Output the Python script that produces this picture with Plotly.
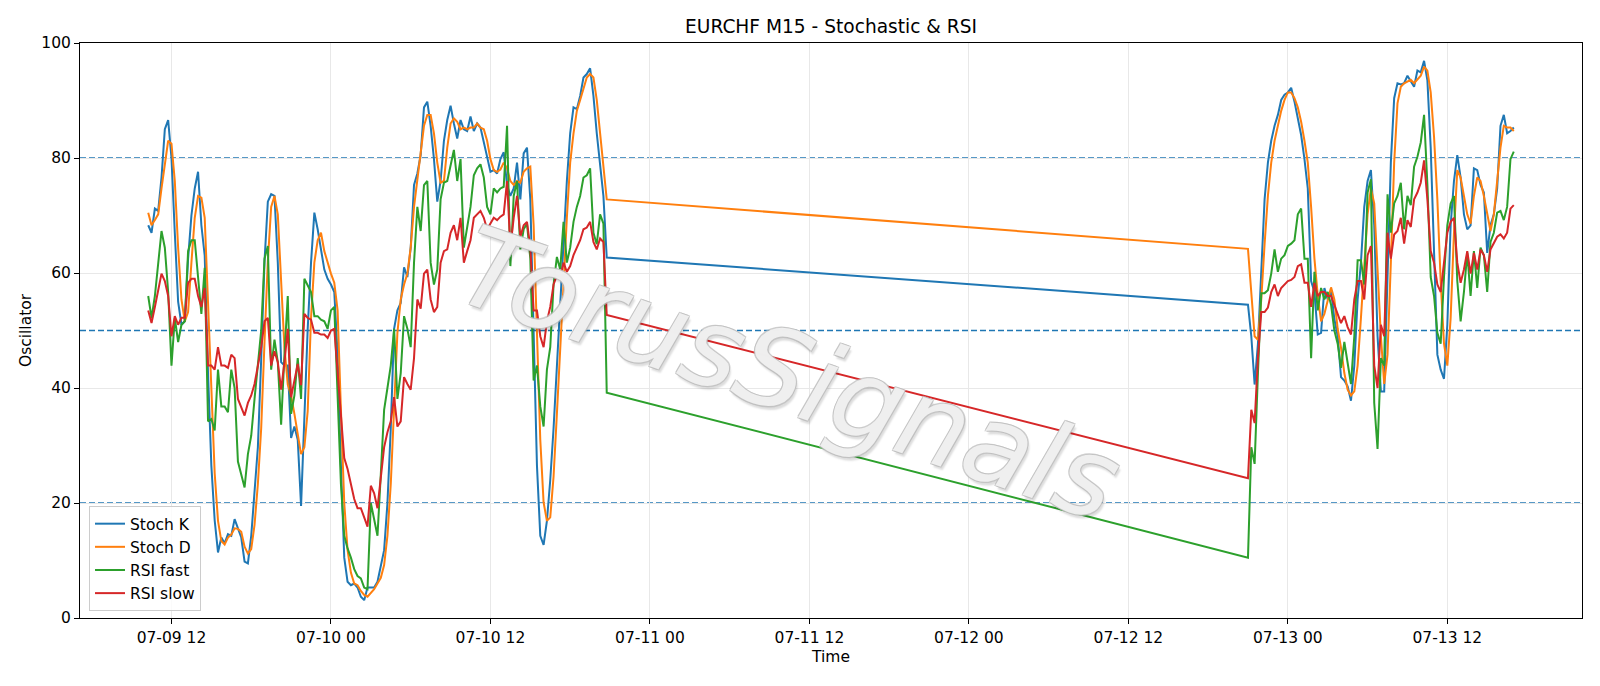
import pandas as pd
import plotly.graph_objects as go

# ---- data ----
seg1_start = "2025-07-09 10:15"
seg2_start = "2025-07-12 21:00"

stoch_k_1 = [68.3, 67, 71.2, 70.8, 76.6, 85, 86.6, 80, 67, 55, 51, 51.6, 62.5, 70, 74.7, 77.6, 68.3, 63, 42.6, 26.5,
             17, 11.4, 14, 13, 14.6, 14.3, 17.2, 15.6, 14, 9.8, 9.5, 14.3, 21.4, 29.7, 45, 62, 72.4, 73.7, 73.4, 61.8,
             44.5, 43.9, 43.9, 31.3, 33.3, 31, 19.5, 36, 50.3, 61.8, 70.5, 67.6, 64.4, 60.6, 59, 58, 56.7, 45.8, 26.5, 10.5,
             6.3, 5.7, 6, 5.3, 3.7, 3.1, 5.3, 5.3, 5.3, 6.3, 9, 11.8, 20, 33, 50.3, 53.5, 54.8, 61, 59.3, 64.4,
             75.3, 77.3, 80.5, 88.8, 89.8, 85.6, 79.8, 72.4, 76, 83, 86.6, 89.1, 86, 83.4, 86.6, 85, 84.7, 87.2, 84.7, 86,
             85.3, 83, 80.2, 77.6, 77.9, 77.3, 79.8, 81, 75.3, 73.4, 74.7, 79.2, 72.8, 80.8, 81.8, 72.8, 49, 26.5, 14.3, 12.7,
             16.9, 24, 33, 43.9, 55.4, 65.7, 76, 84.3, 88.8, 88.5, 90.8, 94, 94.6, 95.6, 90.8, 84.3, 78.5, 73.4, 62.7]
stoch_d_1 = [70.5, 68.3, 69.2, 70.2, 74.7, 79.2, 83, 82.5, 76, 64.4, 55.4, 51.6, 53.2, 61.8, 69.6, 73.4, 73.1, 69.6, 55.4, 39.4,
             25.2, 16.9, 13.4, 12.8, 14, 14.5, 15.6, 15.5, 15, 12.4, 11.2, 12, 16.2, 23.3, 33, 48, 62, 71.5, 73.4, 70.2,
             58.6, 47, 40.6, 38.7, 35.5, 32.3, 28.5, 29.7, 36, 52.2, 61.8, 65.7, 67, 63.8, 61.8, 59.9, 58.3, 53.5, 36.2, 20,
             11.8, 7.9, 6, 5.7, 4.7, 4, 3.7, 4.4, 5, 6, 7, 9.2, 14.3, 23.3, 36.2, 49.6, 55.4, 58, 59.9, 64.4,
             71.5, 76, 80.5, 85.6, 87.5, 87.5, 84.3, 79.2, 75.7, 76, 81.8, 86, 86.9, 86.3, 85, 85.3, 85, 85.3, 85.3, 86,
             85.3, 85, 83, 79.8, 77.9, 77.6, 78, 79.2, 78.2, 76, 75.3, 76, 75.7, 77.6, 78.2, 78.5, 68.3, 49, 31, 20.1,
             16.9, 17.5, 24.6, 35.5, 45.8, 58, 69.6, 79.2, 84.3, 88.2, 90.1, 92, 94, 94.6, 94, 90.1, 84.3, 78.5, 72.8]
rsi_fast_1 = [56, 52.2, 56, 61.8, 67.3, 64.4, 56.7, 43.9, 52.2, 48, 51, 51.6, 63.8, 65.7, 65.7, 59.3, 52.9, 60.9, 34.2, 34.6,
              32.6, 43.2, 36.8, 36.8, 35.8, 43.2, 40, 27.2, 24.9, 22.7, 28.5, 31.7, 38.1, 44.5, 50, 62.5, 64.7, 43.2, 48.4, 44.5,
              33.6, 45.8, 56, 35.5, 38.7, 45.2, 38.1, 59, 57.7, 56.7, 52.5, 52.5, 51.9, 51.6, 50.3, 53.5, 54.1, 39.4, 23.3, 14.3,
              12.1, 10.5, 8.5, 7.3, 6.9, 5.3, 5, 20, 17, 14.3, 25, 36.2, 40, 43.9, 50.3, 38.1, 42.6, 52.5, 50.3, 47.1,
              61.8, 71.5, 67.3, 75.3, 76, 61.8, 58, 60.6, 72.8, 75.7, 76, 78.5, 81.4, 76, 79.8, 64.4, 67.6, 71.5, 77, 78.2,
              78.9, 76.6, 71.5, 70.2, 74.7, 74, 74.7, 75, 85.6, 61.2, 73.4, 76, 64.1, 67.6, 68.6, 62.5, 41.3, 43.9, 36.8, 33.3,
              43.2, 47.1, 58, 62.8, 60.6, 68.9, 61.8, 64.4, 68.9, 71.5, 73.4, 76.6, 77, 78.2, 67, 65, 70.2, 68.6, 39.2]
rsi_slow_1 = [53.5, 51.3, 54.1, 56.7, 59.9, 58.6, 56, 49, 52.5, 51, 52.2, 52.2, 58.3, 59, 59, 56, 54.1, 57.4, 43.9, 43.9,
              43.2, 47.1, 43.9, 43.9, 43.5, 45.8, 45.2, 38.1, 36.8, 35.2, 37.4, 38.7, 40.7, 43.9, 47, 51.6, 52.2, 43.9, 46.4, 44.5,
              39.7, 44.5, 50.3, 38.4, 41.3, 44.2, 40.5, 52.9, 52.2, 51.9, 49.6, 49.6, 49.3, 49.3, 48.7, 50, 50.3, 42.6, 34.2, 27.8,
              25.9, 23.3, 20.7, 19.1, 19.1, 17.5, 15.9, 23, 21.7, 19.1, 25, 29.7, 32.3, 34.2, 38.4, 33.3, 34.2, 41.9, 40.7, 39.7,
              45.2, 55.4, 53.8, 59.9, 60.6, 55.4, 53.2, 54.1, 61.8, 63.8, 64.1, 67, 68.3, 65.7, 69.6, 61.8, 63.8, 65.7, 69.6, 70.2,
              70.8, 69.6, 67.6, 68.6, 69.6, 69.2, 69.8, 70.2, 76, 64.4, 69.6, 73.4, 66.3, 68.3, 68.9, 64.4, 53.5, 53.5, 49, 47.1,
              51.6, 54.1, 58, 59.6, 59.3, 61.8, 60.2, 61.2, 63.1, 64.4, 65.7, 67.6, 67.9, 68.9, 65.4, 64.1, 66, 65.4, 52.7]

stoch_k_2 = [54.5, 49, 40.6, 47.7, 61.8, 72.8, 79.2, 83, 85.6, 87.5, 90.1, 91, 91.4, 92.2, 89.8, 86.9, 84, 79.8, 74.7, 58.6,
             56.7, 49.3, 49.6, 57.4, 55.4, 57, 52, 49, 41.9, 41.3, 40.3, 37.8, 43.9, 55.4, 61.8, 71.5, 76, 77.9, 68.3, 49,
             39.4, 39.4, 60.6, 79.2, 90.4, 93, 92.8, 93, 94.3, 93.3, 92.4, 95.2, 94.9, 96.9, 93.5, 81.8, 64.4, 45.8, 43.2, 41.6,
             51, 68.3, 76, 80.5, 76.6, 70.2, 67.6, 68.3, 78.2, 77.9, 75.3, 74, 63.5, 68.3, 70.2, 74.7, 85.6, 87.5, 84.3, 84.7, 85.3]
stoch_d_2 = [64.2, 56.7, 49, 48.4, 55.4, 65, 73.4, 79.2, 83, 85.6, 88.2, 90.1, 91.4, 91.4, 90.4, 88.8, 86.3, 83, 79.2, 71.5,
             62.5, 56.1, 51.6, 52.9, 55.4, 57.5, 55.4, 50.3, 47, 42.6, 39.7, 38.7, 39.4, 43.9, 52.2, 61.8, 70.2, 74.7, 72.1, 60.6,
             49, 40.7, 45.8, 61.8, 79.2, 89.5, 92.4, 93, 93.3, 93.6, 93, 93.6, 94.3, 95.9, 95.2, 91.4, 83.7, 72.8, 58.6, 47.7,
             43.9, 52.2, 67, 77.9, 76.6, 73.4, 70.2, 68.6, 73.4, 76.6, 76, 73.4, 70.2, 67.3, 70.2, 76, 81.8, 85.6, 85.3, 85.3, 84.7]
rsi_fast_2 = [10.5, 29.7, 26.8, 42.6, 56.5, 56.5, 57, 59.9, 64.1, 60.2, 62.5, 63.1, 64.7, 65.1, 65.7, 70.2, 71.2, 62.5, 62.5, 45.2,
              60.2, 53.5, 57.4, 55.4, 56.7, 54.5, 50, 47.7, 43.5, 48, 43.9, 40.7, 49, 62.2, 62.2, 58, 74, 76.3, 37.4, 29.4,
              45.2, 43.9, 73.7, 67, 72.1, 73.4, 75.7, 67.6, 73.4, 71.8, 78.5, 80.2, 82.7, 87.5, 75.4, 59.3, 56, 49.6, 47.7, 59.3,
              68.3, 72.1, 73.4, 58.6, 51.6, 56.7, 63.5, 56, 63.8, 57.4, 64.4, 63.1, 56.7, 65.4, 67, 70.5, 70.8, 69.2, 71.5, 79.8, 81.1]
rsi_slow_2 = [24.3, 36.2, 33.9, 45.2, 53.2, 53.2, 54, 56.7, 58, 56, 57.4, 58, 58.6, 58.8, 59.3, 61.2, 61.5, 58.3, 58.3, 54.1,
              58.3, 56, 56.7, 56.7, 56, 56, 54.5, 52.9, 51.3, 52.5, 50.6, 49.3, 55.4, 58.6, 58.6, 55.4, 63.1, 64.7, 43.9, 40,
              51, 49, 67, 62.5, 66.7, 67.3, 69.6, 65.1, 69.2, 68, 72.8, 74, 75.7, 79.6, 72.8, 63.8, 61.8, 58, 56.7, 61.8,
              67, 68.9, 69.6, 61.8, 58.3, 60.6, 63.8, 59.9, 63.5, 60.6, 64.1, 63.1, 60.2, 64.1, 65.1, 66.3, 66.7, 66, 67, 71.2, 71.8]

levels = [80, 50, 20]
tick_times = ["2025-07-09 12:00", "2025-07-10 00:00", "2025-07-10 12:00", "2025-07-11 00:00", "2025-07-11 12:00",
              "2025-07-12 00:00", "2025-07-12 12:00", "2025-07-13 00:00", "2025-07-13 12:00"]
tick_labels = ["07-09 12", "07-10 00", "07-10 12", "07-11 00", "07-11 12", "07-12 00", "07-12 12", "07-13 00", "07-13 12"]

# ---- build ----
t1 = pd.date_range(seg1_start, periods=len(stoch_k_1), freq="15min")
t2 = pd.date_range(seg2_start, periods=len(stoch_k_2), freq="15min")
times = list(t1) + list(t2)

series = [
    ("Stoch K", stoch_k_1 + stoch_k_2, "#1f77b4"),
    ("Stoch D", stoch_d_1 + stoch_d_2, "#ff7f0e"),
    ("RSI fast", rsi_fast_1 + rsi_fast_2, "#2ca02c"),
    ("RSI slow", rsi_slow_1 + rsi_slow_2, "#d62728"),
]

FONT = "DejaVu Sans"
FS = 15.5
fig = go.Figure()
for name, vals, col in series:
    fig.add_trace(go.Scatter(x=times, y=vals, mode="lines", name=name,
                             line=dict(color=col, width=2)))

for lv in levels:
    fig.add_shape(type="line", xref="paper", x0=0, x1=1, yref="y", y0=lv, y1=lv,
                  line=dict(color="#1f77b4", width=1.3, dash="6px,3px"), layer="below")

fig.add_annotation(text="TorusSignals", xref="paper", yref="paper", x=0.472, y=0.425,
                   showarrow=False, textangle=19,
                   font=dict(family=FONT, size=110, color="rgba(255,255,255,0.75)", style="italic",
                             shadow="1px 1px 0 #bdbdbd, -1px -1px 0 #bdbdbd, 1px -1px 0 #bdbdbd, -1px 1px 0 #bdbdbd, 3px 3px 2px rgba(0,0,0,0.18)"))

fig.update_layout(
    width=1600, height=686,
    margin=dict(l=80, r=18, t=43, b=68),
    paper_bgcolor="white", plot_bgcolor="white",
    font=dict(family=FONT, size=FS, color="black"),
    title=dict(text="EURCHF M15 - Stochastic & RSI", x=0.5, xref="paper", xanchor="center",
               y=1 - 26.5 / 686, yref="container", yanchor="middle",
               font=dict(family=FONT, size=18.6, color="black")),
    showlegend=True,
    legend=dict(x=0.006, y=0.012, xanchor="left", yanchor="bottom",
                bgcolor="rgba(255,255,255,0.8)", bordercolor="#cccccc", borderwidth=1,
                font=dict(family=FONT, size=FS), tracegroupgap=0, itemwidth=30),
)
fig.update_xaxes(
    type="date", range=["2025-07-09 05:07", "2025-07-13 22:08"],
    tickvals=tick_times, ticktext=tick_labels,
    showgrid=True, gridcolor="#e8e8e8", gridwidth=1,
    showline=True, linecolor="black", linewidth=1, mirror=True,
    ticks="outside", ticklen=5, tickcolor="black", tickfont=dict(size=FS),
    title=dict(text="Time", font=dict(size=FS), standoff=5), zeroline=False,
)
fig.update_yaxes(
    range=[0, 100], tickvals=[0, 20, 40, 60, 80, 100],
    showgrid=True, gridcolor="#e8e8e8", gridwidth=1,
    showline=True, linecolor="black", linewidth=1, mirror=True,
    ticks="outside", ticklen=5, tickcolor="black", tickfont=dict(size=FS),
    title=dict(text="Oscillator", font=dict(size=FS), standoff=5), zeroline=False,
)

fig.write_html("out.html")
